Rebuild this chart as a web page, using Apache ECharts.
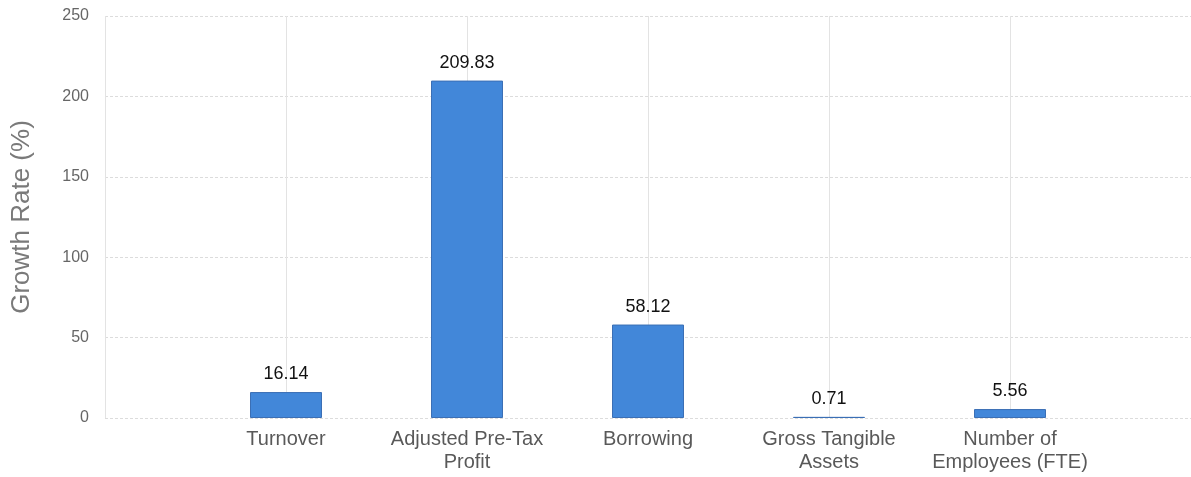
<!DOCTYPE html>
<html lang="en">
<head>
  <meta charset="UTF-8">
  <title>growth-rate</title>
  <style>
    html, body { margin:0; padding:0; background:#fff; }
    #chart { width:1191px; height:477px; }
  </style>
</head>
<body>
  <div id="chart"></div>
  <script src="https://cdn.jsdelivr.net/npm/echarts@6/dist/echarts.min.js"></script>
  <script>
    var categories = ['Turnover', 'Adjusted Pre-Tax\nProfit', 'Borrowing', 'Gross Tangible\nAssets', 'Number of\nEmployees (FTE)']
    var growth = [16.14, 209.83, 58.12, 0.71, 5.56]
    var yTicks = [0, 50, 100, 150, 200, 250]

    // pad one empty slot at each end so the bars sit on the inner ticks
    var axisData = [''].concat(categories, [''])
    var barData = ['-'].concat(growth, ['-'])

    var myChart = echarts.init(document.getElementById('chart'))
    var option = {
      animation: false,
      grid: { left: 105, right: 0, top: 16, bottom: 59, outerBoundsMode: 'none', containLabel: false },
      xAxis: {
        type: 'category',
        boundaryGap: false,
        data: axisData,
        axisLine: { show: false },
        axisTick: { show: false },
        axisLabel: {
          color: '#595959',
          fontFamily: 'Liberation Sans, Arial',
          fontSize: 20,
          lineHeight: 23,
          margin: 10,
          interval: 0
        },
        splitLine: { show: true, lineStyle: { color: '#e3e3e3', type: 'solid', width: 1 } }
      },
      yAxis: {
        type: 'value',
        min: yTicks[0],
        max: yTicks[yTicks.length - 1],
        interval: 50,
        name: 'Growth Rate (%)',
        nameLocation: 'middle',
        nameGap: 70,
        nameTextStyle: { color: '#7a7a7a', fontSize: 26, fontFamily: 'Liberation Sans, Arial' },
        axisLine: { show: false },
        axisTick: { show: false },
        axisLabel: { color: '#666', fontSize: 16, fontFamily: 'Liberation Sans, Arial', margin: 16 },
        splitLine: { lineStyle: { color: '#dcdcdc', type: [3, 2], width: 1 } }
      },
      series: [
        {
          type: 'bar',
          barWidth: 72,
          data: barData,
          itemStyle: { color: '#4287d9', borderColor: '#3b6fb5', borderWidth: 1 },
          label: {
            show: true,
            position: 'top',
            distance: 9,
            color: '#111',
            fontSize: 18,
            fontFamily: 'Liberation Sans, Arial'
          }
        }
      ]
    }
    myChart.setOption(option, true)
  </script>
</body>
</html>
